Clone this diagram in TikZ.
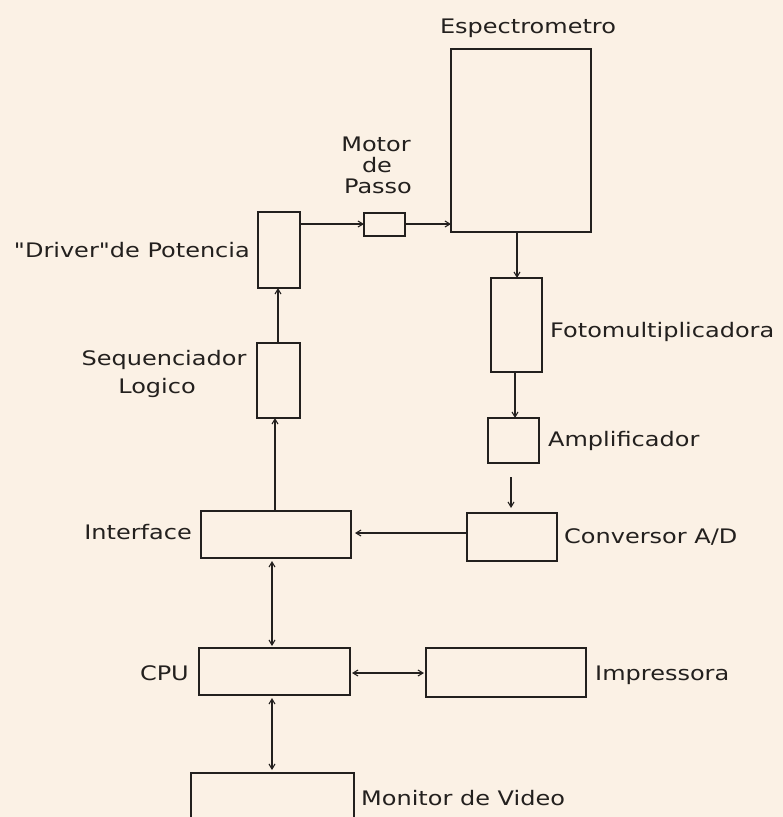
\documentclass[tikz,border=0pt]{standalone}
\usepackage{fontspec}
\newfontfamily\lblfont[FakeStretch=1.2]{DejaVu Sans}
\usetikzlibrary{arrows.meta}
\definecolor{paper}{RGB}{251,241,229}
\definecolor{ink}{RGB}{35,32,30}
\tikzset{
  blk/.style={draw=ink, line width=1.4pt, rectangle, inner sep=0pt, outer sep=0pt},
  lbl/.style={font=\lblfont\fontsize{20}{22}\selectfont, text=ink, inner sep=0pt},
  conn/.style={draw=ink, line width=1.1pt, -{Straight Barb[length=5pt,width=6pt]}},
  bconn/.style={draw=ink, line width=1.1pt, {Straight Barb[length=5pt,width=6pt]}-{Straight Barb[length=5pt,width=6pt]}}
}
\begin{document}
\begin{tikzpicture}[x=1pt,y=-1pt]
\path[fill=paper] (0,0) rectangle (783,817);
\useasboundingbox (0,0) rectangle (783,817);
\clip (0,0) rectangle (783,817);
% boxes
\node[blk, minimum width=140pt, minimum height=183pt] (esp) at (521,140.5) {};
\node[blk, minimum width=41pt, minimum height=23pt] (mot) at (384.5,224.5) {};
\node[blk, minimum width=42pt, minimum height=76pt] (drv) at (279,250) {};
\node[blk, minimum width=43pt, minimum height=75pt] (seq) at (278.5,380.5) {};
\node[blk, minimum width=51pt, minimum height=94pt] (foto) at (516.5,325) {};
\node[blk, minimum width=51pt, minimum height=45pt] (amp) at (513.5,440.5) {};
\node[blk, minimum width=90pt, minimum height=48pt] (conv) at (512,537) {};
\node[blk, minimum width=150pt, minimum height=47pt] (intf) at (276,534.5) {};
\node[blk, minimum width=151pt, minimum height=47pt] (cpu) at (274.5,671.5) {};
\node[blk, minimum width=160pt, minimum height=49pt] (imp) at (506,672.5) {};
\node[blk, minimum width=163pt, minimum height=57pt] (mon) at (272.5,801.5) {};
% labels
\node[lbl, anchor=base] (tesp) at (528,33) {Espectrometro};
\node[lbl, anchor=base] (tmot1) at (376,151) {Motor};
\node[lbl, anchor=base] (tmot2) at (377,172) {de};
\node[lbl, anchor=base] (tmot3) at (378,193) {Passo};
\node[lbl, anchor=base east] (tdrv) at (250,257) {"Driver"de Potencia};
\node[lbl, anchor=base] (tseq1) at (164,365) {Sequenciador};
\node[lbl, anchor=base] (tseq2) at (157,393) {Logico};
\node[lbl, anchor=base west] (tfoto) at (550,337) {Fotomultiplicadora};
\node[lbl, anchor=base west] (tamp) at (548,446) {Amplificador};
\node[lbl, anchor=base west] (tconv) at (564,543) {Conversor A/D};
\node[lbl, anchor=base east] (tintf) at (192,539) {Interface};
\node[lbl, anchor=base east] (tcpu) at (189,680) {CPU};
\node[lbl, anchor=base west] (timp) at (595,680) {Impressora};
\node[lbl, anchor=base west] (tmon) at (361,805) {Monitor de Video};
% connectors
\draw[conn] (drv.east |- 0,224) -- (mot.west |- 0,224);
\draw[conn] (mot.east |- 0,224) -- (esp.west |- 0,224);
\draw[conn] (esp.south -| 517,0) -- (foto.north -| 517,0);
\draw[conn] (foto.south -| 515,0) -- (amp.north -| 515,0);
\draw[conn, shorten <=14pt, shorten >=5pt] (amp.south -| 511,0) -- (conv.north -| 511,0);
\draw[conn, shorten >=4pt] (conv.west |- 0,533) -- (intf.east |- 0,533);
\draw[conn] (intf.north -| 275,0) -- (seq.south -| 275,0);
\draw[conn] (seq.north -| 278,0) -- (drv.south -| 278,0);
\draw[bconn, shorten <=3pt, shorten >=2pt] (intf.south -| 272,0) -- (cpu.north -| 272,0);
\draw[bconn, shorten <=2pt, shorten >=2pt] (cpu.east |- 0,673) -- (imp.west |- 0,673);
\draw[bconn, shorten <=3pt, shorten >=3pt] (cpu.south -| 272,0) -- (mon.north -| 272,0);
\end{tikzpicture}
\end{document}
